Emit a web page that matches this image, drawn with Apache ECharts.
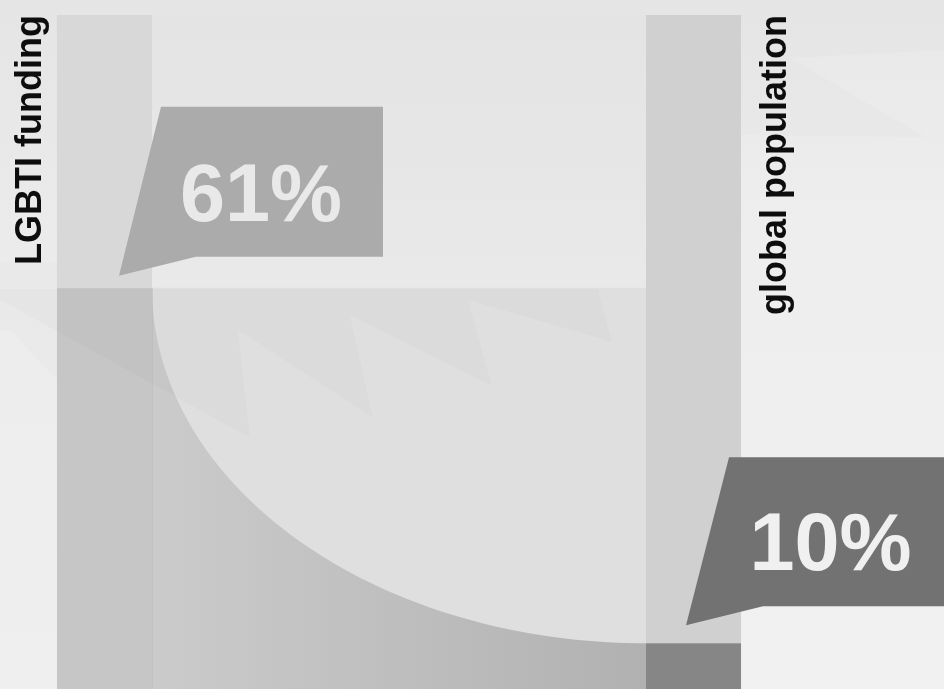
<!DOCTYPE html>
<html>
<head>
<meta charset="utf-8">
<script src="https://cdn.jsdelivr.net/npm/echarts@6/dist/echarts.min.js"></script>
<style>
  html, body { margin: 0; padding: 0; background: #eeeeee; }
  #chart { width: 944px; height: 689px; }
</style>
</head>
<body>
<div id="chart"></div>
<script>
// ---- data ----
const categories = ['LGBTI funding', 'global population'];
const shares = [61, 10];               // percent
const shareLabels = ['61%', '10%'];

// ---- styles ----
const FONT = '"Liberation Sans", Arial, Helvetica, sans-serif';
const barWidthRatio = 95 / 589;
const barTopColors = ['#d8d8d8', '#d0d0d0'];
const barShareColors = ['#c6c6c6', '#868686'];
const calloutColors = ['#ababab', '#727272'];
const calloutTextColors = ['#e9e9e9', '#f0f0f0'];
// polygon offsets from anchor (bar center, share level)
const calloutShapes = [
  [[14.5, -12], [56.5, -181], [278.5, -181], [278.5, -31], [91.5, -31]],
  [[-7.5, -18], [35.5, -186], [280, -186], [280, -37], [69.5, -37]]
];
const calloutTextPos = [[156.5, -89], [137, -96]];
const axisLabelX = [31, 776];

const chart = echarts.init(document.getElementById('chart'), null, { renderer: 'canvas' });

function barRender(params, api) {
  const i = api.value(0);
  const v = api.value(1);
  const top = api.coord([i, 100]);
  const mid = api.coord([i, v]);
  const bot = api.coord([i, 0]);
  const w = api.size([1, 0])[0] * barWidthRatio;
  const x0 = top[0] - w / 2;
  return {
    type: 'group',
    children: [
      { type: 'rect', shape: { x: x0, y: top[1] - 1, width: w, height: mid[1] - top[1] + 1 },
        style: { fill: barTopColors[i] } },
      { type: 'rect', shape: { x: x0, y: mid[1], width: w, height: bot[1] - mid[1] },
        style: { fill: barShareColors[i] } },
      { type: 'text', x: axisLabelX[i], y: top[1] - 1, rotation: Math.PI / 2,
        style: { text: categories[i], fill: '#0d0d0d', font: 'bold 36px ' + FONT,
                 align: 'right', verticalAlign: 'middle' } }
    ]
  };
}

function flowRender(params, api) {
  const vL = api.value(0), vR = api.value(1);
  const wPx = api.size([1, 0])[0] * barWidthRatio;
  const pL = api.coord([0, vL]);
  const pR = api.coord([1, vR]);
  const pL0 = api.coord([0, 0]);
  const xL = pL[0] + wPx / 2;
  const xR = pR[0] - wPx / 2;
  const yTop = api.coord([0, 100])[1] - 1;
  const a = xR - xL, b = pR[1] - pL[1];
  const pts = [];
  const N = 80;
  for (let k = 0; k <= N; k++) {
    const t = (k / N) * Math.PI / 2;
    pts.push([xR - a * Math.cos(t), pL[1] + b * Math.sin(t)]);
  }
  pts.push([xR, pL0[1]]);
  pts.push([xL, pL0[1]]);
  return {
    type: 'group',
    children: [
      { type: 'rect', shape: { x: xL, y: yTop, width: xR - xL, height: pL[1] - yTop },
        style: { fill: 'rgba(225,225,225,0.3)' } },
      { type: 'rect', shape: { x: xL, y: pL[1], width: xR - xL, height: pL0[1] - pL[1] },
        style: { fill: '#dfdfdf' } },
      { type: 'polygon', shape: { points: pts },
        style: { fill: new echarts.graphic.LinearGradient(0, 0, 1, 0, [
          { offset: 0, color: '#cbcbcb' }, { offset: 1, color: '#b1b1b1' }]) } },
      { type: 'line', shape: { x1: xL, y1: pL[1], x2: xL, y2: pL0[1] },
        style: { stroke: '#bababa', lineWidth: 1 } }
    ]
  };
}

function calloutRender(params, api) {
  const i = api.value(0);
  const v = api.value(1);
  const p = api.coord([i, v]);
  const pts = calloutShapes[i].map(d => [p[0] + d[0], p[1] + d[1]]);
  return {
    type: 'group',
    children: [
      { type: 'polygon', shape: { points: pts }, style: { fill: calloutColors[i] } },
      { type: 'text', x: p[0] + calloutTextPos[i][0], y: p[1] + calloutTextPos[i][1],
        style: { text: shareLabels[i], fill: calloutTextColors[i], font: 'bold 81px ' + FONT,
                 align: 'center', verticalAlign: 'middle' } }
    ]
  };
}

const barData = shares.map((s, i) => [i, s]);

const option = {
  backgroundColor: new echarts.graphic.LinearGradient(0, 0, 0, 1, [
    { offset: 0, color: '#e5e5e5' }, { offset: 0.4, color: '#ececec' }, { offset: 1, color: '#efefef' }]),
  animation: false,
  // the picture is cropped: the bars' zero line lies just below the bottom edge
  grid: { left: 57, right: 203, top: 16, bottom: 0 },
  xAxis: { type: 'value', min: -0.0806, max: 1.0806, show: false },
  yAxis: { type: 'value', min: 3.44, max: 100, show: false },
  graphic: [
    { type: 'polygon', z: 100, silent: true,
      shape: { points: [[0, 300], [250, 438], [238, 330], [373, 418], [350, 315], [492, 386], [468, 300], [612, 342], [598, 289], [0, 289]] },
      style: { fill: 'rgba(0,0,0,0.014)' } },
    { type: 'polygon', z: 1, silent: true,
      shape: { points: [[0, 262], [57, 262], [57, 380], [10, 330], [0, 330]] },
      style: { fill: 'rgba(0,0,0,0.012)' } },
    { type: 'polygon', z: 1, silent: true,
      shape: { points: [[790, 58], [944, 50], [944, 140], [925, 137]] },
      style: { fill: 'rgba(255,255,255,0.15)' } },
    { type: 'polygon', z: 1, silent: true,
      shape: { points: [[741, 135], [925, 137], [944, 140], [944, 689], [741, 689]] },
      style: { fill: 'rgba(255,255,255,0.15)' } }
  ],
  series: [
    { type: 'custom', name: 'flow', z: 2, renderItem: flowRender, data: [[shares[0], shares[1]]],
      encode: { x: [], y: [0, 1] }, clip: false },
    { type: 'custom', name: 'bars', z: 3, renderItem: barRender, data: barData,
      encode: { x: 0, y: 1 }, clip: false },
    { type: 'custom', name: 'callouts', z: 200, renderItem: calloutRender, data: barData,
      encode: { x: 0, y: 1 }, clip: false }
  ]
};
chart.setOption(option);
</script>
</body>
</html>
